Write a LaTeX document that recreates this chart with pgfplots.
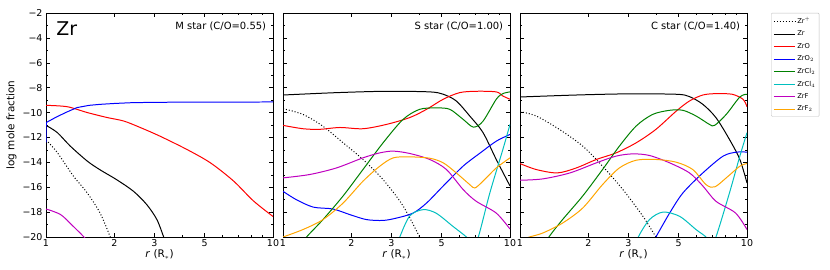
\documentclass[border=0pt]{standalone}
\usepackage{pgfplots}
\pgfplotsset{compat=1.18}
\usepackage{fontspec}
\setmainfont{DejaVu Sans}
\definecolor{mgreen}{RGB}{0,128,0}
\definecolor{mcyan}{RGB}{0,191,191}
\definecolor{mmag}{RGB}{191,0,191}
\definecolor{morange}{RGB}{255,165,0}
\pgfplotsset{
  zrpanel/.style={
    scale only axis, width=227bp, height=224bp,
    xmin=1, xmax=10, ymin=-20, ymax=-2,
    xtick={1,2,3,5,10}, xticklabels={1,2,3,5,10},
    minor xtick={4,6,7,8,9},
    ytick={-2,-4,...,-20},
    minor ytick={-3,-5,...,-19},
    tick align=inside, tick pos=both,
    major tick length=4bp, minor tick length=2bp,
    every tick/.style={black, line width=0.5pt},
    ticklabel style={font=\fontsize{9.5}{10}\selectfont},
    xticklabel style={yshift=1bp},
    xlabel={\textit{r} (R$_*$)},
    xlabel style={font=\fontsize{10.5}{11}\selectfont, yshift=4bp},
    axis line style={line width=0.7pt},
    every axis plot/.append style={line width=1.0pt, mark=none, smooth},
  }
}
\begin{document}
\begin{tikzpicture}
\useasboundingbox (0,0) rectangle (830bp,270bp);
% Panel 1
\begin{semilogxaxis}[zrpanel, at={(46bp,33bp)}, anchor=south west,
  yticklabels={−2,−4,−6,−8,−10,−12,−14,−16,−18,−20},
  ylabel={log mole fraction},
  ylabel style={font=\fontsize{10.5}{11}\selectfont, yshift=-1bp}]
\addplot[black, dotted, line width=1.0pt] coordinates {(1,-12.2) (1.12,-13.2) (1.32,-15.1) (1.52,-16.46) (1.73,-18.07) (1.92,-20) (2.0,-20.8)};
\addplot[black] coordinates {(1,-11.03) (1.12,-11.6) (1.28,-12.7) (1.52,-13.9) (1.73,-14.6) (2.05,-15.4) (2.43,-16.33) (2.78,-17.4) (3.08,-18.6) (3.3,-20) (3.4,-20.6)};
\addplot[red] coordinates {(1,-9.42) (1.24,-9.53) (1.52,-10.0) (1.86,-10.4) (2.2,-10.68) (2.6,-11.2) (3.18,-11.9) (4.18,-12.97) (5.3,-14.04) (6.7,-15.5) (8.2,-17.1) (10,-18.35)};
\addplot[blue, sharp plot] coordinates {(1,-12.4) (1.003,-10.8) (1.1,-10.4) (1.22,-10.0) (1.37,-9.6) (1.55,-9.42) (1.73,-9.34) (2.0,-9.27) (2.43,-9.2) (3.5,-9.17) (5,-9.16) (10,-9.15)};
\addplot[mmag] coordinates {(1,-17.75) (1.16,-18.2) (1.32,-19.15) (1.47,-20) (1.55,-20.5)};
\node[anchor=north west, font=\fontsize{19}{20}\selectfont] at (rel axis cs:0.03,0.975) {Zr};
\node[anchor=north east, font=\fontsize{10}{11}\selectfont] at (rel axis cs:0.985,0.975) {M star (C/O=0.55)};
\end{semilogxaxis}
% Panel 2
\begin{semilogxaxis}[zrpanel, at={(283bp,33bp)}, anchor=south west, yticklabels={}]
\addplot[black, dotted, line width=1.0pt] coordinates {(1,-9.69) (1.225,-10.15) (1.5,-11.1) (1.84,-12.43) (2.25,-13.77) (2.76,-15.39) (3.38,-17.5) (4.0,-20) (4.2,-20.7)};
\addplot[black] coordinates {(1,-8.59) (1.72,-8.4) (2.86,-8.29) (4.43,-8.34) (5.08,-8.53) (5.8,-9.07) (6.65,-10.28) (7.6,-11.6) (8.7,-13.77) (10,-15.9)};
\addplot[red] coordinates {(1,-11.03) (1.225,-11.3) (1.45,-11.35) (1.78,-11.2) (2.25,-11.3) (2.86,-10.95) (3.62,-10.4) (4.29,-9.74) (5.08,-8.93) (6.0,-8.4) (7.1,-8.29) (8.7,-8.34) (9.3,-8.67) (10,-8.93)};
\addplot[blue] coordinates {(1,-16.33) (1.145,-17.0) (1.36,-17.6) (1.66,-17.75) (1.97,-18.2) (2.33,-18.6) (2.76,-18.67) (3.16,-18.48) (3.74,-18.08) (4.29,-17.27) (5.08,-15.9) (6.22,-14.3) (7.4,-13.24) (8.7,-12.3) (10,-11.76)};
\addplot[mgreen] coordinates {(1.2,-20.7) (1.27,-20) (1.5,-18.6) (1.84,-16.7) (2.25,-14.58) (2.76,-12.43) (3.38,-10.55) (4.0,-9.74) (4.74,-9.63) (5.43,-9.74) (6.22,-10.55) (6.9,-11.17) (7.6,-10.7) (8.7,-8.93) (9.3,-8.48) (10,-8.34)};
\addplot[mcyan] coordinates {(3.15,-21) (3.27,-20) (3.62,-18.3) (4.15,-17.8) (4.74,-18.1) (5.6,-19.14) (6.43,-20) (6.85,-20.6) (7.25,-20) (8.15,-16.46) (9.3,-12.97) (10,-10.95)};
\addplot[mmag] coordinates {(1,-15.25) (1.31,-14.98) (1.72,-14.45) (2.25,-13.64) (2.67,-13.24) (3.06,-13.1) (3.62,-13.29) (4.43,-13.77) (5.25,-14.58) (6.22,-16.19) (7.1,-17.13) (8.7,-18.08) (10,-19.36)};
\addplot[morange] coordinates {(1,-20) (1.225,-19.4) (1.5,-18.6) (1.84,-17.27) (2.25,-15.52) (2.67,-14.31) (3.06,-13.64) (3.62,-13.56) (4.43,-13.67) (5.08,-14.04) (5.8,-14.85) (6.65,-15.79) (7.0,-16.06) (7.6,-15.52) (8.7,-14.45) (10,-13.64)};
\node[anchor=north east, font=\fontsize{10}{11}\selectfont] at (rel axis cs:0.985,0.975) {S star (C/O=1.00)};
\end{semilogxaxis}
% Panel 3
\begin{semilogxaxis}[zrpanel, at={(520bp,33bp)}, anchor=south west, yticklabels={},
  legend style={at={(1.106,1)}, anchor=north west, font=\fontsize{6.8}{7.5}\selectfont,
    draw=black!25, rounded corners=1pt, inner xsep=2pt, inner ysep=2pt, row sep=2.0pt},
  legend cell align=left,
  legend image code/.code={\draw[#1] (0bp,0bp) -- (21bp,0bp);}]
\addlegendimage{black, dotted, line width=1.0pt}
\addlegendentry{Zr$^+$}
\addlegendimage{black, line width=1.0pt}
\addlegendentry{Zr}
\addlegendimage{red, line width=1.0pt}
\addlegendentry{ZrO}
\addlegendimage{blue, line width=1.0pt}
\addlegendentry{ZrO$_2$}
\addlegendimage{mgreen, line width=1.0pt}
\addlegendentry{ZrCl$_2$}
\addlegendimage{mcyan, line width=1.0pt}
\addlegendentry{ZrCl$_4$}
\addlegendimage{mmag, line width=1.0pt}
\addlegendentry{ZrF}
\addlegendimage{morange, line width=1.0pt}
\addlegendentry{ZrF$_2$}
\addplot[black, dotted, line width=1.0pt, forget plot] coordinates {(1,-9.93) (1.18,-10.28) (1.49,-11.35) (1.89,-12.7) (2.31,-14.31) (2.84,-16.19) (3.48,-18.34) (3.97,-20) (4.15,-20.6)};
\addplot[black, forget plot] coordinates {(1,-8.75) (1.77,-8.59) (2.94,-8.5) (4.88,-8.53) (5.58,-8.72) (6.39,-9.34) (7.3,-10.41) (8.37,-12.16) (9.3,-13.77) (10,-15.66)};
\addplot[red, forget plot] coordinates {(1,-14.1) (1.18,-14.58) (1.46,-14.85) (1.77,-14.45) (2.17,-13.77) (2.65,-13.24) (3.25,-12.43) (3.97,-11.35) (4.88,-9.88) (5.58,-9.07) (6.39,-8.59) (7.3,-8.48) (8.6,-8.53) (9.6,-8.93) (10,-9.53)};
\addplot[blue, forget plot] coordinates {(3.8,-20.6) (3.97,-20) (4.56,-18.08) (5.22,-16.46) (6.39,-14.85) (7.85,-13.5) (9.0,-13.18) (10,-13.18)};
\addplot[mgreen, forget plot] coordinates {(1.28,-20.7) (1.34,-20) (1.54,-18.6) (1.89,-16.7) (2.31,-14.58) (2.74,-12.7) (3.25,-11.08) (3.84,-10.15) (4.56,-9.82) (5.22,-9.82) (5.97,-10.28) (6.83,-10.95) (7.2,-11.03) (8.1,-10.15) (9.3,-8.75) (10,-8.53)};
\addplot[mcyan, forget plot] coordinates {(3.2,-21) (3.32,-20) (3.72,-18.6) (4.26,-18.0) (5.05,-18.34) (5.97,-19.41) (6.6,-20) (6.95,-20.6) (7.3,-20) (8.37,-16.46) (9.3,-13.5) (10,-11.62)};
\addplot[mmag, forget plot] coordinates {(1,-15.44) (1.26,-15.33) (1.66,-14.85) (2.17,-14.04) (2.65,-13.5) (3.14,-13.32) (3.72,-13.45) (4.56,-14.04) (5.58,-14.85) (6.39,-15.9) (7.3,-17.13) (8.9,-18.07) (10,-19.4)};
\addplot[morange, forget plot] coordinates {(1.03,-20.2) (1.1,-20) (1.26,-19.68) (1.54,-18.88) (1.89,-17.67) (2.31,-15.79) (2.74,-14.45) (3.25,-13.83) (3.97,-13.77) (4.88,-13.99) (5.77,-14.58) (6.6,-15.79) (7.2,-15.98) (8.1,-15.25) (9.3,-14.31) (10,-14.1)};
\node[anchor=north east, font=\fontsize{10}{11}\selectfont] at (rel axis cs:0.985,0.975) {C star (C/O=1.40)};
\end{semilogxaxis}
\end{tikzpicture}
\end{document}
